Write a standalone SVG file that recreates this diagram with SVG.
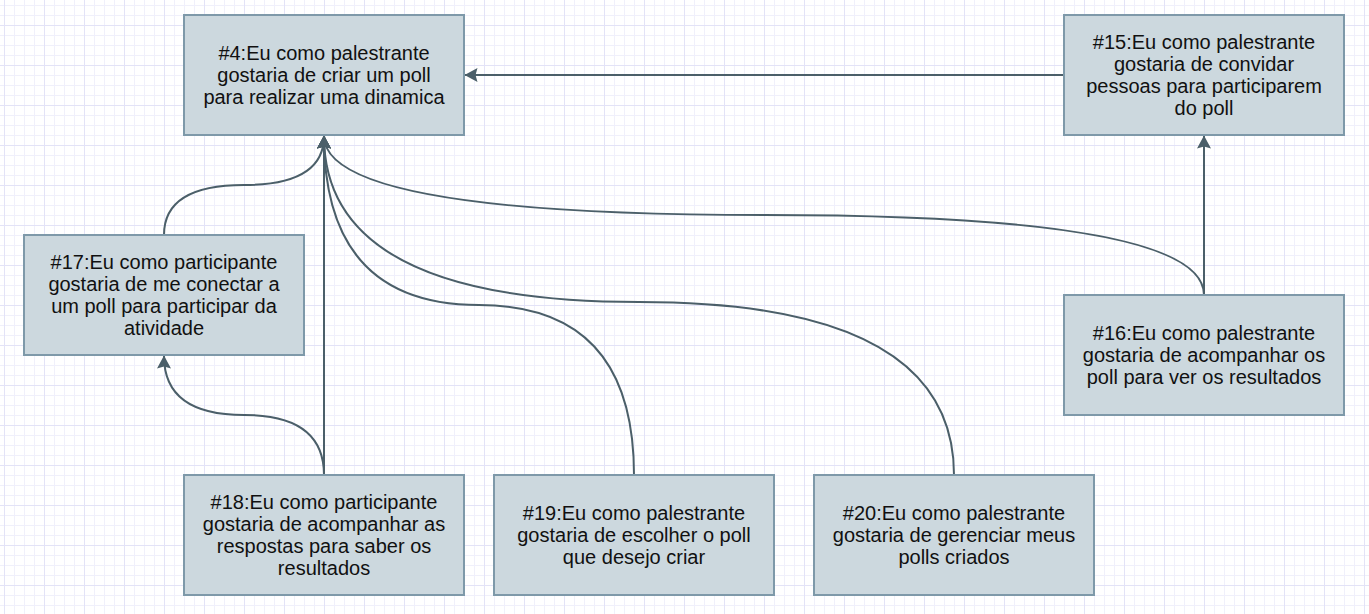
<svg xmlns="http://www.w3.org/2000/svg" width="1369" height="614" viewBox="0 0 1369 614">
<defs>
<pattern id="minor" x="4" y="5" width="10" height="10" patternUnits="userSpaceOnUse">
<path d="M0.5 0V10M0 0.5H10" stroke="#f0f0fb" stroke-width="1" fill="none"/>
</pattern>
<pattern id="major" x="4" y="25" width="40" height="40" patternUnits="userSpaceOnUse">
<path d="M0.5 0V40M0 0.5H40" stroke="#e3e3f7" stroke-width="1" fill="none"/>
</pattern>
<marker id="arr" viewBox="0 0 13 14" refX="12.5" refY="7" markerWidth="13" markerHeight="14" markerUnits="userSpaceOnUse" orient="auto">
<path d="M0,0 L13,7 L0,14 L2,7 Z" fill="#4b5f69"/>
</marker>
</defs>
<style>
.node rect{fill:#ccd8de;stroke:#7e99a9;stroke-width:2}
.node text{font-family:"Liberation Sans",Arial,sans-serif;font-size:20px;fill:#111;text-anchor:middle}
.edge{fill:none;stroke:#4b5f69;stroke-width:2}
</style>
<rect width="1369" height="614" fill="#ffffff"/>
<rect width="1369" height="614" fill="url(#minor)"/>
<rect width="1369" height="614" fill="url(#major)"/>
<g id="connectors">
<path class="edge" d="M1064 75H465" marker-end="url(#arr)"/>
<path class="edge" d="M1204 295V136" marker-end="url(#arr)"/>
<path class="edge" d="M1204 295Q1204 215 764 215Q324 215 324 136" marker-end="url(#arr)"/>
<path class="edge" d="M164 235Q164 185 244 185Q324 185 324 136" marker-end="url(#arr)"/>
<path class="edge" d="M324 475V136" marker-end="url(#arr)"/>
<path class="edge" d="M324 475Q324 415 244 415Q164 415 164 356" marker-end="url(#arr)"/>
<path class="edge" d="M634 475Q634 305 479 305Q324 305 324 136" marker-end="url(#arr)"/>
<path class="edge" d="M954 475Q954 302 639 302Q324 302 324 136" marker-end="url(#arr)"/>
</g>
<g id="n4" class="node"><rect x="184" y="15" width="280" height="120"/>
<text x="324" y="59.5">#4:Eu como palestrante</text><text x="324" y="81.5">gostaria de criar um poll</text><text x="324" y="103.5">para realizar uma dinamica</text></g>
<g id="n15" class="node"><rect x="1064" y="15" width="280" height="120"/>
<text x="1204" y="49">#15:Eu como palestrante</text><text x="1204" y="71">gostaria de convidar</text><text x="1204" y="93">pessoas para participarem</text><text x="1204" y="115">do poll</text></g>
<g id="n17" class="node"><rect x="24" y="235" width="280" height="120"/>
<text x="164" y="269">#17:Eu como participante</text><text x="164" y="291">gostaria de me conectar a</text><text x="164" y="313">um poll para participar da</text><text x="164" y="335">atividade</text></g>
<g id="n16" class="node"><rect x="1064" y="295" width="280" height="120"/>
<text x="1204" y="339.5">#16:Eu como palestrante</text><text x="1204" y="361.5">gostaria de acompanhar os</text><text x="1204" y="383.5">poll para ver os resultados</text></g>
<g id="n18" class="node"><rect x="184" y="475" width="280" height="120"/>
<text x="324" y="509">#18:Eu como participante</text><text x="324" y="531">gostaria de acompanhar as</text><text x="324" y="553">respostas para saber os</text><text x="324" y="575">resultados</text></g>
<g id="n19" class="node"><rect x="494" y="475" width="280" height="120"/>
<text x="634" y="519.5">#19:Eu como palestrante</text><text x="634" y="541.5">gostaria de escolher o poll</text><text x="634" y="563.5">que desejo criar</text></g>
<g id="n20" class="node"><rect x="814" y="475" width="280" height="120"/>
<text x="954" y="519.5">#20:Eu como palestrante</text><text x="954" y="541.5">gostaria de gerenciar meus</text><text x="954" y="563.5">polls criados</text></g>
</svg>
